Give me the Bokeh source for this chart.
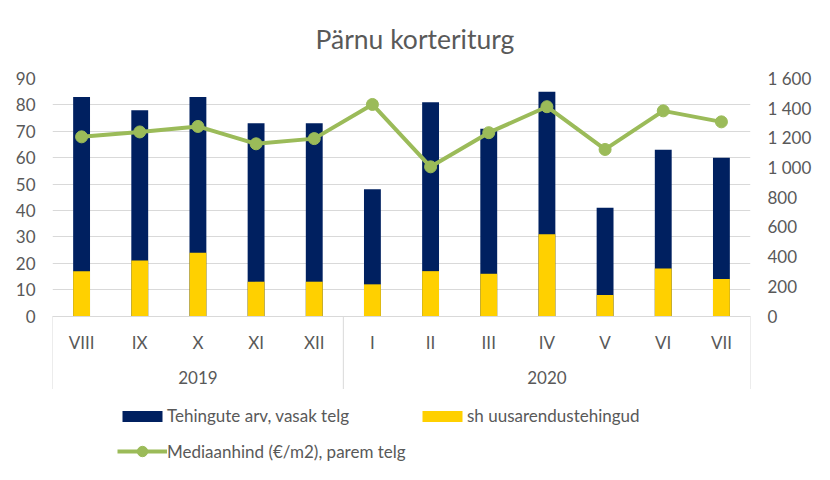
from bokeh.plotting import figure
from bokeh.models import (Range1d, LinearAxis, FixedTicker, FactorRange, Legend,
                          LegendItem, ColumnDataSource)
from bokeh.core.properties import value
from bokeh.embed import file_html
from bokeh.resources import INLINE

# ---------------- data ----------------
years = ["2019"] * 5 + ["2020"] * 7
months = ["VIII", "IX", "X", "XI", "XII", "I", "II", "III", "IV", "V", "VI", "VII"]
tehingud = [83, 78, 83, 73, 73, 48, 81, 71, 85, 41, 63, 60]
uusarendus = [17, 21, 24, 13, 13, 12, 17, 16, 31, 8, 18, 14]
mediaanhind = [1207, 1240, 1277, 1160, 1195, 1425, 1005, 1235, 1410, 1122, 1382, 1308]
year_labels = ["2019", "2020"]
left_ticks = list(range(0, 91, 10))
right_ticks = list(range(0, 1601, 200))
right_tick_labels = {t: f"{t:,}".replace(",", " ") for t in right_ticks}

# ---------------- layout constants ----------------
FONT = "Lato"
TXT = "#595959"
GRID = "#D9D9D9"
NAVY = "#002060"
YELLOW = "#FFD000"
GREEN = "#9BBB59"

W, H = 814, 464
FL, FR, FT, FB = 52, 756, 78, 464      # frame edges in figure px
ZERO = 315.5                            # figure px of value 0
k = (ZERO - FT) / 90.0                  # px per unit (left axis)
ymin = -(FB - ZERO) / k
pk = 1600.0 / 90.0                      # right axis units per left unit


def below(px):
    return -px / k


factors = list(zip(years, months))
src = ColumnDataSource(dict(x=factors, total=tehingud, new=uusarendus,
                            price=mediaanhind, month=months))

p = figure(width=W, height=H,
           x_range=FactorRange(*factors, range_padding=0, group_padding=0,
                               factor_padding=0, subgroup_padding=0),
           y_range=Range1d(ymin, 90),
           x_axis_location=None, toolbar_location=None, output_backend="svg",
           min_border_left=FL, min_border_right=W - FR,
           min_border_top=FT, min_border_bottom=H - FB)
p.extra_y_ranges = {"price": Range1d(ymin * pk, 1600)}
p.outline_line_color = None
p.background_fill_color = "white"
p.border_fill_color = "white"

# title
p.title.text = "Pärnu korteriturg"
p.title.align = "left"
p.title.offset = 263
p.title.vertical_align = "top"
p.title.standoff = 44
p.title.text_font = FONT
p.title.text_font_size = "26.5px"
p.title.text_font_style = "normal"
p.title.text_color = TXT

# grid
p.xgrid.visible = False
p.ygrid.ticker = FixedTicker(ticks=left_ticks)
p.ygrid.grid_line_color = GRID
p.ygrid.grid_line_width = 1

# left axis
ax = p.yaxis[0]
ax.ticker = FixedTicker(ticks=left_ticks)
ax.axis_line_color = None
ax.major_tick_line_color = None
ax.minor_tick_line_color = None
ax.major_tick_out = 0
ax.major_tick_in = 0
ax.major_label_standoff = 17
ax.major_label_text_font = FONT
ax.major_label_text_font_size = "17px"
ax.major_label_text_color = TXT

# right axis
ra = LinearAxis(y_range_name="price", ticker=FixedTicker(ticks=right_ticks),
                major_label_overrides=right_tick_labels)
ra.axis_line_color = None
ra.major_tick_line_color = None
ra.minor_tick_line_color = None
ra.major_tick_out = 0
ra.major_tick_in = 0
ra.major_label_standoff = 17
ra.major_label_text_font = FONT
ra.major_label_text_font_size = "17px"
ra.major_label_text_color = TXT
p.add_layout(ra, "right")

# bars
r_total = p.vbar(x="x", top="total", bottom=0, width=0.29, source=src,
                 fill_color=NAVY, line_color=None)
r_new = p.vbar(x="x", top="new", bottom=0, width=0.29, source=src,
               fill_color=YELLOW, line_color=None)

# line
r_line = p.line(x="x", y="price", source=src, y_range_name="price",
                line_color=GREEN, line_width=4)
r_pts = p.scatter(x="x", y="price", source=src, y_range_name="price",
                  marker="circle", size=12, fill_color=GREEN, line_color=GREEN)

# category axis (two levels) drawn in the frame below zero
bounds = [0]
for y in year_labels:
    bounds.append(bounds[-1] + years.count(y))
p.segment(x0=bounds, x1=bounds, y0=[0] * len(bounds), y1=[below(73)] * len(bounds),
          line_color=GRID, line_width=1)
p.text(x="x", y=below(26), text="month", source=src, text_align="center",
       text_baseline="middle", text_font=value(FONT), text_font_size="17px",
       text_color=TXT)
p.text(x=year_labels, y=[below(61)] * len(year_labels), text=year_labels,
       text_align="center", text_baseline="middle", text_font=value(FONT),
       text_font_size="17px", text_color=TXT)


def make_legend(items, loc, gh):
    lg = Legend(items=items, location=loc, orientation="horizontal",
                glyph_width=50, glyph_height=gh, label_standoff=0,
                label_width=250, spacing=0, padding=0, margin=0,
                border_line_alpha=0, background_fill_alpha=0,
                label_text_font=FONT, label_text_font_size="17px",
                label_text_color=TXT)
    return lg


legA = make_legend([LegendItem(label="Tehingute arv, vasak telg", renderers=[r_total]),
                    LegendItem(label="sh uusarendustehingud", renderers=[r_new])],
                   (65, 38), 14)
legB = make_legend([LegendItem(label="Mediaanhind (€/m2), parem telg",
                               renderers=[r_line, r_pts])],
                   (65, 0), 26)
p.add_layout(legA)
p.add_layout(legB)

open("out.html", "w").write(file_html(p, INLINE))
